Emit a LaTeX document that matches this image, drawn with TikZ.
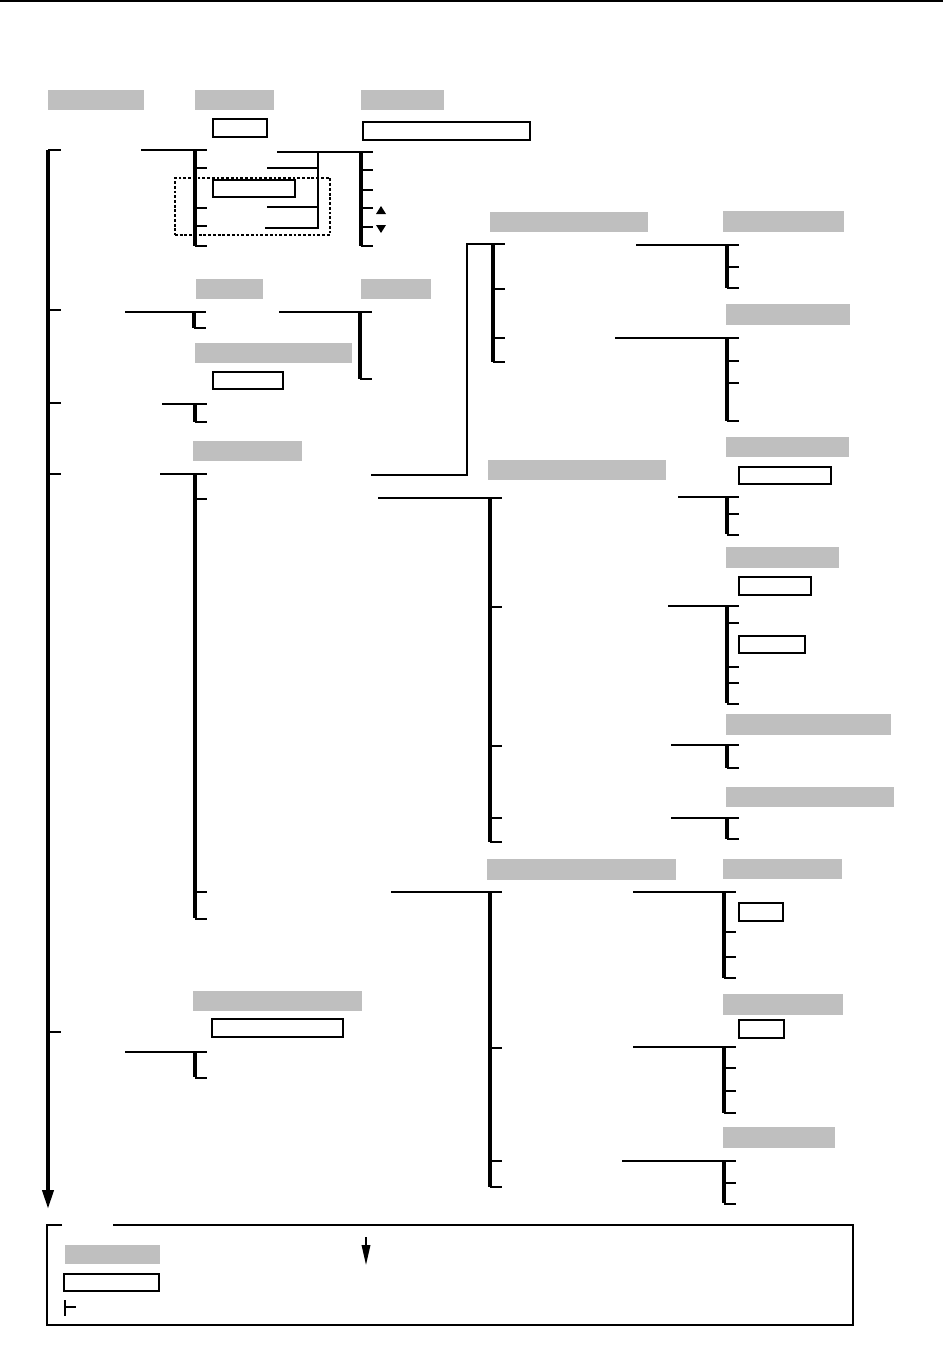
\documentclass[tikz,border=0pt]{standalone}
\usetikzlibrary{arrows.meta,fit}

% menu bar: [feed x]{name}{x}{top}{bottom}{tick rows}
\newcommand{\menubar}[6][]{%
  \coordinate (#2-t) at (#3,#4);
  \coordinate (#2-b) at (#3,#5);
  \draw[bar] (#2-t) -- (#2-b);
  \foreach \ty in {#6} \draw[tick] (#3,\ty) -- ++(12,0);
  \if\relax\detokenize{#1}\relax\else
    \coordinate (#2-in) at (#1,#4);
    \draw[link] (#2-in) -- (#2-t);
  \fi
}

\begin{document}
\begin{tikzpicture}[
  x=0.02cm, y=-0.02cm,
  hdr/.style={rectangle, fill=gray!50, draw=none, inner sep=0pt},
  opt/.style={rectangle, draw=black, line width=0.75pt, fill=white, inner sep=0pt},
  bar/.style={line width=2pt, black},
  tick/.style={line width=0.7pt, black},
  link/.style={line width=0.7pt, black},
  grp/.style={draw=black, line width=0.6pt, dash pattern=on 1.6pt off 1.1pt}
]
\useasboundingbox (0,0) rectangle (943,1345);

%=== TOP RULE ===
\fill[black] (0,0) rectangle (943,2.5);

%=== HEADER BOXES ===
\node[hdr, fit={(48,90) (144,110)}]   (h1)  {};
\node[hdr, fit={(195,90) (274,110)}]  (h2)  {};
\node[hdr, fit={(361,90) (444,110)}]  (h3)  {};
\node[hdr, fit={(196,279) (263,299)}] (h4)  {};
\node[hdr, fit={(361,279) (431,299)}] (h5)  {};
\node[hdr, fit={(195,343) (352,363)}] (h6)  {};
\node[hdr, fit={(193,441) (302,461)}] (h7)  {};
\node[hdr, fit={(490,212) (648,232)}] (h8)  {};
\node[hdr, fit={(723,211) (844,232)}] (h9)  {};
\node[hdr, fit={(726,304) (850,325)}] (h10) {};
\node[hdr, fit={(726,437) (849,457)}] (h11) {};
\node[hdr, fit={(488,460) (666,480)}] (h12) {};
\node[hdr, fit={(726,547) (839,568)}] (h13) {};
\node[hdr, fit={(726,714) (891,735)}] (h14) {};
\node[hdr, fit={(726,787) (894,807)}] (h15) {};
\node[hdr, fit={(487,859) (676,880)}] (h16) {};
\node[hdr, fit={(723,859) (842,879)}] (h17) {};
\node[hdr, fit={(723,994) (843,1015)}] (h18) {};
\node[hdr, fit={(723,1127) (835,1148)}] (h19) {};
\node[hdr, fit={(193,991) (362,1011)}] (h20) {};

%=== OPTION BOXES ===
\node[opt, fit={(213,119) (267,137)}]  (o1)  {};
\node[opt, fit={(363,122) (530,140)}]  (o2)  {};
\node[opt, fit={(213,180) (295,197)}]  (o3)  {};
\node[opt, fit={(213,372) (283,389)}]  (o4)  {};
\node[opt, fit={(739,467) (831,484)}]  (o5)  {};
\node[opt, fit={(739,577) (811,595)}]  (o6)  {};
\node[opt, fit={(739,636) (805,653)}]  (o7)  {};
\node[opt, fit={(739,903) (783,921)}]  (o8)  {};
\node[opt, fit={(739,1020) (784,1038)}] (o9) {};
\node[opt, fit={(212,1019) (343,1037)}] (o10) {};

%=== DOTTED GROUP ===
\node[grp, inner sep=0pt, fit={(175,178) (330,235)}] (grp) {};

%=== MAIN BAR ===
\coordinate (main-t) at (48,150);
\coordinate (main-e) at (48,1209);
\draw[bar, line width=2.2pt, -{Triangle[length=0.38cm,width=0.22cm]}] (main-t) -- (main-e);
\foreach \ty in {150,310,403,474,1032} \draw[tick] (48,\ty) -- ++(13,0);

%=== LEVEL 2 / 3 BARS ===
\menubar[141]{bA}{195}{150}{246}{150,168,208,226,246}
\menubar[277]{bB}{361}{152}{246}{152,170,190,208,227,246}
\coordinate (jB) at (318,152);
\coordinate (jB1) at (267,168);
\coordinate (jB2) at (267,207);
\coordinate (jB3) at (265,228);
\draw[link] (jB1) -| (jB);
\draw[link] (jB2) -| (jB);
\draw[link] (jB3) -| (jB);
\fill (376,214) -- (386,214) -- (381,206) -- cycle;
\fill (376,225) -- (386,225) -- (381,233) -- cycle;

\menubar[125]{bC}{194}{312}{328}{312,328}
\menubar[279]{bD}{360}{312}{379}{312,379}
\menubar[162]{bE}{195}{404}{422}{404,422}
\menubar[160]{bF}{195}{474}{918}{474,499,892,919}
\menubar[125]{bT}{195}{1052}{1077}{1052,1078}

%=== LEVEL 4 BARS ===
\menubar{bG}{493}{244}{362}{244,289,338,362}
\coordinate (gIn) at (371,475);
\coordinate (gElb) at (467,475);
\draw[link] (gIn) -- (gElb) |- (bG-t);
\menubar[378]{bJ}{490}{498}{842}{498,607,746,818,842}
\menubar[391]{bP}{490}{892}{1187}{892,1048,1161,1187}

%=== LEVEL 5 BARS ===
\menubar[636]{bH}{727}{245}{288}{245,267,288}
\menubar[615]{bI}{727}{338}{421}{338,361,383,421}
\menubar[678]{bK}{727}{497}{534}{497,514,535}
\menubar[668]{bL}{727}{606}{703}{606,623,667,683,704}
\menubar[671]{bM}{727}{745}{768}{745,768}
\menubar[671]{bN}{727}{818}{839}{818,839}
\menubar[633]{bQ}{724}{892}{978}{892,932,957,978}
\menubar[633]{bR}{724}{1047}{1113}{1047,1068,1091,1113}
\menubar[622]{bS}{724}{1161}{1203}{1161,1183,1204}

%=== LEGEND ===
\draw[line width=0.75pt] (62,1225) -- (47,1225) -- (47,1325) -- (853,1325) -- (853,1225) -- (113,1225);
\node[hdr, fit={(65,1245) (160,1264)}] (lgH) {};
\node[opt, fit={(64,1274) (159,1291)}] (lgO) {};
\draw[line width=1.3pt] (65,1300) -- (65,1316);
\draw[tick] (65,1307) -- ++(11,0);
\coordinate (lgA-t) at (366,1237);
\coordinate (lgA-b) at (366,1265);
\draw[link, line width=1pt, -{Triangle[length=0.4cm,width=0.17cm]}] (lgA-t) -- (lgA-b);

\end{tikzpicture}
\end{document}
